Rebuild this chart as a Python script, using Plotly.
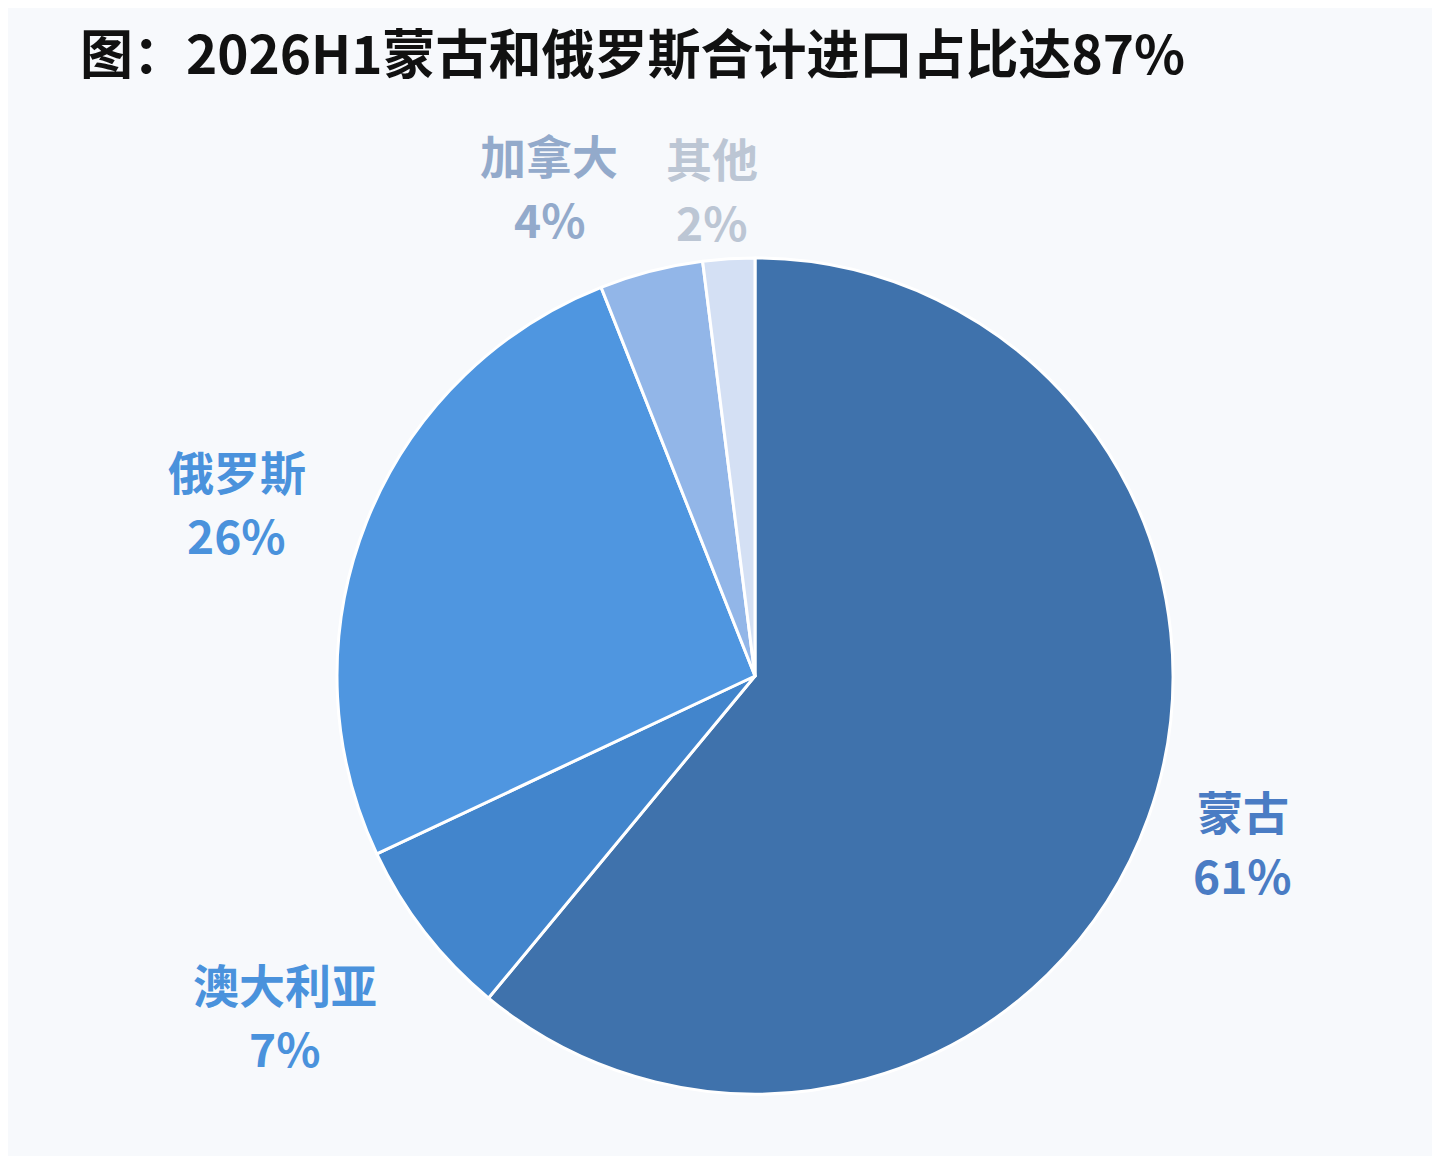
import math

import plotly.graph_objects as go

# data
countries = ["蒙古", "澳大利亚", "俄罗斯", "加拿大", "其他"]
shares = [61, 7, 26, 4, 2]

slice_colors = ["#3f72ac", "#4285cc", "#4f96e0", "#92b6e8", "#d4e0f4"]
label_colors = ["#4a7cc4", "#4a92dc", "#4a92dc", "#93aacb", "#bcc6d4"]
label_dist = [515, 580, 547, 531, 489]    # px from pie centre
label_nudge = [-1, 2, -3, -8.4, -1.5]     # degrees off the slice's mid angle

W, H = 1440, 1156
CX, CY, R = 747, 668, 418     # pie centre / radius in pixels
LINE_GAP = 32

fig = go.Figure(go.Pie(
    labels=countries, values=shares,
    sort=False, direction="clockwise", rotation=0,
    marker={"colors": slice_colors, "line": {"color": "#ffffff", "width": 3}},
    textinfo="none", hoverinfo="label+percent",
    showlegend=False,
    domain={"x": [(CX - R) / W, (CX + R) / W],
            "y": [(H - CY - R) / H, (H - CY + R) / H]},
))

# labels sit outside the pie near each slice's mid angle
total = sum(shares)
acc = 0
for name, v, col, dist, nudge in zip(countries, shares, label_colors,
                                     label_dist, label_nudge):
    mid = (acc + v / 2) / total * 2 * math.pi + math.radians(nudge)
    acc += v
    px = CX + dist * math.sin(mid)
    py = CY - dist * math.cos(mid)
    font = {"family": "Noto Sans CJK SC", "size": 46, "color": col}
    fig.add_annotation(x=px / W, y=1 - py / H, xref="paper", yref="paper",
                       xanchor="center", yanchor="middle", showarrow=False,
                       yshift=LINE_GAP, text=f"<b>{name}</b>", font=font)
    fig.add_annotation(x=px / W, y=1 - py / H, xref="paper", yref="paper",
                       xanchor="center", yanchor="middle", showarrow=False,
                       yshift=-LINE_GAP, text=f"<b>{round(v / total * 100)}%</b>",
                       font=font)

fig.update_layout(
    width=W, height=H,
    margin={"l": 0, "r": 0, "t": 0, "b": 0},
    paper_bgcolor="#f7f9fc",
    plot_bgcolor="#f7f9fc",
    title={"text": "<b>图：2026H1蒙古和俄罗斯合计进口占比达87%</b>",
           "x": 72 / W, "xanchor": "left", "y": 1 - 47 / H, "yanchor": "middle",
           "font": {"family": "Noto Sans CJK SC", "size": 53, "color": "#111111"}},
)

fig.write_html("out.html")
